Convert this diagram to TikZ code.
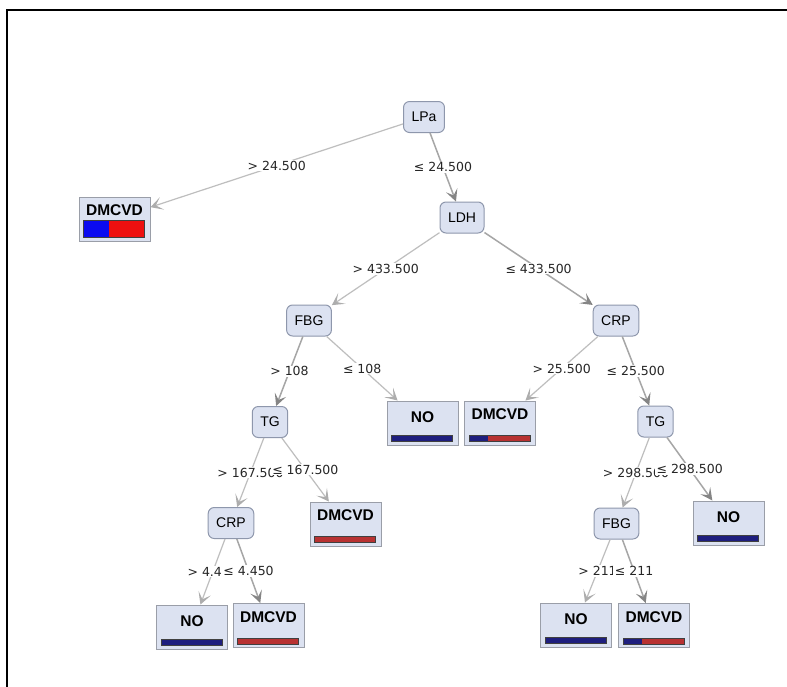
\documentclass[tikz,border=0pt]{standalone}
\usepackage{fontspec}
\setmainfont{Liberation Sans}
\newfontfamily\condfont{DejaVu Sans}
\usetikzlibrary{arrows.meta}

\definecolor{nodefill}{HTML}{DCE2F1}
\definecolor{nodeline}{HTML}{8E97AC}
\definecolor{leafline}{HTML}{9A9EA8}
\definecolor{edgelight}{HTML}{BEBEBE}
\definecolor{edgeheavy}{HTML}{A6A6A6}
\definecolor{tiplight}{HTML}{ADADAD}
\definecolor{tipheavy}{HTML}{858585}
\definecolor{barnavy}{HTML}{1E1E7E}
\definecolor{barred}{HTML}{B83232}
\definecolor{barblue}{HTML}{0A0AF0}
\definecolor{barbright}{HTML}{EE1010}

\tikzset{
  split/.style={draw=nodeline, fill=nodefill, rounded corners=6pt, line width=1pt,
    minimum height=31pt, inner xsep=8pt, inner ysep=0pt,
    font=\fontsize{14}{16}\selectfont},
  leafbox/.style={draw=leafline, fill=nodefill, line width=1pt,
    minimum width=71pt, minimum height=44pt, inner sep=0pt},
  leaftext/.style={font=\fontsize{15.5}{17}\selectfont\bfseries, inner sep=0pt},
  barframe/.style={draw=black!75, line width=0.6pt},
  branch/.style={draw=edgelight, line width=1.2pt,
    -{Stealth[length=12pt,width=13pt,inset=6.5pt,color=tiplight]}},
  mainbranch/.style={draw=edgeheavy, line width=1.5pt,
    -{Stealth[length=12pt,width=12pt,inset=5.5pt,color=tipheavy]}},
  cond/.style={fill=white, inner xsep=1.5pt, inner ysep=1pt, text=black!85,
    font=\condfont\fontsize{12.5}{14}\selectfont},
}

% leaf: name, x, y, class, text drop, left colour, right colour, left share, bar height
\newcommand{\dtleaf}[9]{%
  \node[leafbox] (#1) at (#2,#3) {};
  \node[leaftext] (#1-t) at ([yshift=-#5pt]#1.north) {#4};
  \coordinate (#1-bl) at ([xshift=5pt,yshift=4pt]#1.south west);
  \fill[#6] (#1-bl) rectangle ([xshift={61pt*#8},yshift=#9pt]#1-bl);
  \fill[#7] ([xshift={61pt*#8}]#1-bl) rectangle ([xshift=61pt,yshift=#9pt]#1-bl);
  \draw[barframe] (#1-bl) rectangle ([xshift=61pt,yshift=#9pt]#1-bl);
}

\begin{document}
\begin{tikzpicture}[x=1pt,y=-1pt]
\useasboundingbox (0,0) rectangle (787,686);
\fill[white] (0,0) rectangle (787,686);
\draw[line width=2pt] (6.5,690) -- (6.5,10) -- (790,10);

% split nodes
\node[split] (lpa)  at (424,117)   {LPa};
\node[split] (ldh)  at (462,217.5) {LDH};
\node[split] (fbg)  at (309,320.5) {FBG};
\node[split] (crp)  at (616,320.5) {CRP};
\node[split] (tg)   at (270,422)   {TG};
\node[split] (tgb)  at (655.5,421.5) {TG};
\node[split] (crpb) at (231,523)   {CRP};
\node[split] (fbgb) at (616.5,523.5) {FBG};

% leaves
\dtleaf{dma}{114.5}{219}{DMCVD}{14}{barblue}{barbright}{0.42}{17}
\dtleaf{noa}{422.5}{423}{NO}{17}{barnavy}{barred}{1}{6}
\dtleaf{dmb}{500}{423}{DMCVD}{14}{barnavy}{barred}{0.31}{6}
\dtleaf{dmc}{345.5}{524}{DMCVD}{14}{barnavy}{barred}{0}{6}
\dtleaf{nob}{728.5}{523}{NO}{17}{barnavy}{barred}{1}{6}
\dtleaf{noc}{192}{627}{NO}{17}{barnavy}{barred}{1}{6}
\dtleaf{dmd}{268.5}{625.5}{DMCVD}{14}{barnavy}{barred}{0}{6}
\dtleaf{nod}{576}{625}{NO}{17}{barnavy}{barred}{1}{6}
\dtleaf{dme}{654}{625.5}{DMCVD}{14}{barnavy}{barred}{0.31}{6}

% branches
\draw[branch]     (lpa) -- node[cond] {> 24.500} (dma);
\draw[mainbranch] (lpa) -- node[cond] {≤ 24.500} (ldh);
\draw[branch]     (ldh) -- node[cond] {> 433.500} (fbg);
\draw[mainbranch] (ldh) -- node[cond] {≤ 433.500} (crp);
\draw[mainbranch] (fbg) -- node[cond] {> 108} (tg);
\draw[branch]     (fbg) -- node[cond] {≤ 108} (noa);
\draw[branch]     (crp) -- node[cond] {> 25.500} (dmb);
\draw[mainbranch] (crp) -- node[cond] {≤ 25.500} (tgb);
\draw[branch]     (tg) -- node[cond] {> 167.500} (crpb);
\draw[branch]     (tg) -- node[cond] {≤ 167.500} (dmc);
\draw[branch]     (crpb) -- node[cond] {> 4.450} (noc);
\draw[mainbranch] (crpb) -- node[cond] {≤ 4.450} (dmd);
\draw[branch]     (tgb) -- node[cond] {> 298.500} (fbgb);
\draw[mainbranch] (tgb) -- node[cond] {≤ 298.500} (nob);
\draw[branch]     (fbgb) -- node[cond] {> 211} (nod);
\draw[mainbranch] (fbgb) -- node[cond] {≤ 211} (dme);
\end{tikzpicture}
\end{document}
